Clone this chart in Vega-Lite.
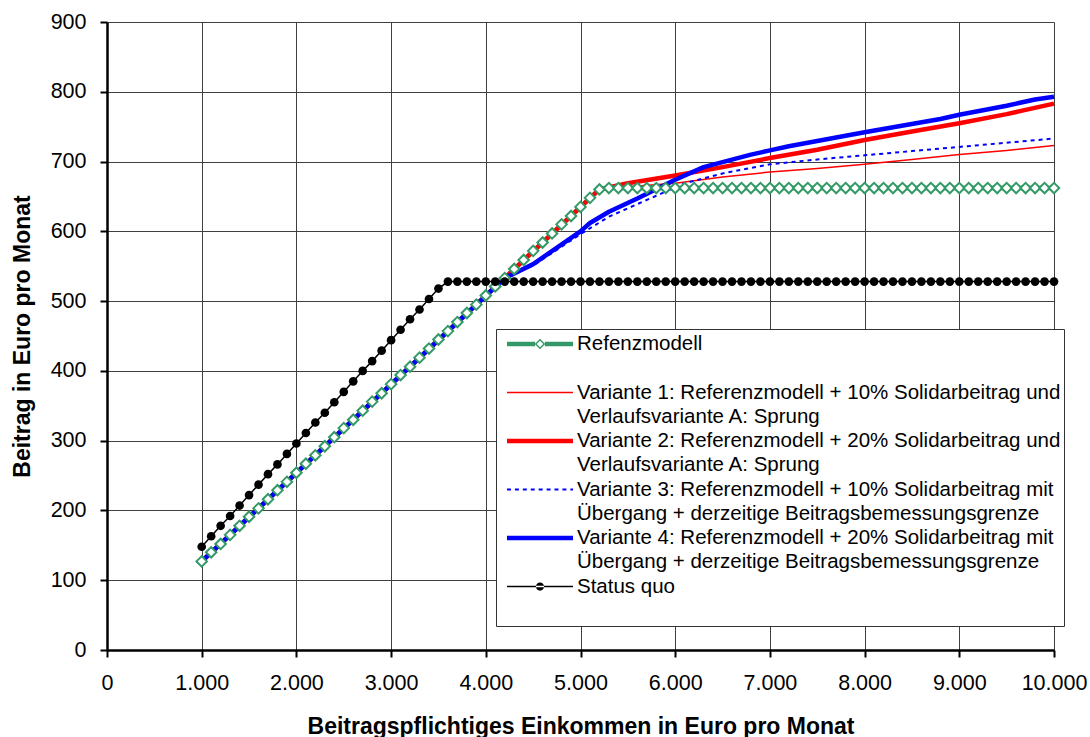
{
  "$schema": "https://vega.github.io/schema/vega-lite/v6.json",
  "autosize": {"type": "none"},
  "width": 947,
  "height": 628,
  "padding": {"left": 107, "top": 22, "right": 36, "bottom": 87},
  "background": "white",
  "config": {
    "view": {"stroke": null},
    "font": "Liberation Sans",
    "axis": {
      "labelFont": "Liberation Sans", "labelFontSize": 21.5, "labelColor": "black",
      "titleFont": "Liberation Sans", "titleFontSize": 23, "titleFontWeight": "bold", "titleColor": "black",
      "domainColor": "black", "domainWidth": 2.5,
      "tickColor": "black", "tickWidth": 2, "tickSize": 7,
      "gridColor": "#404040", "gridWidth": 1, "gridOpacity": 1
    }
  },
  "datasets": {
    "beitraege": [
      {"serie": "Refenzmodell", "einkommen": 1000, "beitrag": 127},
      {"serie": "Refenzmodell", "einkommen": 1100, "beitrag": 140},
      {"serie": "Refenzmodell", "einkommen": 1200, "beitrag": 152},
      {"serie": "Refenzmodell", "einkommen": 1300, "beitrag": 165},
      {"serie": "Refenzmodell", "einkommen": 1400, "beitrag": 178},
      {"serie": "Refenzmodell", "einkommen": 1500, "beitrag": 191},
      {"serie": "Refenzmodell", "einkommen": 1600, "beitrag": 203},
      {"serie": "Refenzmodell", "einkommen": 1700, "beitrag": 216},
      {"serie": "Refenzmodell", "einkommen": 1800, "beitrag": 229},
      {"serie": "Refenzmodell", "einkommen": 1900, "beitrag": 241},
      {"serie": "Refenzmodell", "einkommen": 2000, "beitrag": 254},
      {"serie": "Refenzmodell", "einkommen": 2100, "beitrag": 267},
      {"serie": "Refenzmodell", "einkommen": 2200, "beitrag": 279},
      {"serie": "Refenzmodell", "einkommen": 2300, "beitrag": 292},
      {"serie": "Refenzmodell", "einkommen": 2400, "beitrag": 305},
      {"serie": "Refenzmodell", "einkommen": 2500, "beitrag": 318},
      {"serie": "Refenzmodell", "einkommen": 2600, "beitrag": 330},
      {"serie": "Refenzmodell", "einkommen": 2700, "beitrag": 343},
      {"serie": "Refenzmodell", "einkommen": 2800, "beitrag": 356},
      {"serie": "Refenzmodell", "einkommen": 2900, "beitrag": 368},
      {"serie": "Refenzmodell", "einkommen": 3000, "beitrag": 381},
      {"serie": "Refenzmodell", "einkommen": 3100, "beitrag": 394},
      {"serie": "Refenzmodell", "einkommen": 3200, "beitrag": 406},
      {"serie": "Refenzmodell", "einkommen": 3300, "beitrag": 419},
      {"serie": "Refenzmodell", "einkommen": 3400, "beitrag": 432},
      {"serie": "Refenzmodell", "einkommen": 3500, "beitrag": 445},
      {"serie": "Refenzmodell", "einkommen": 3600, "beitrag": 457},
      {"serie": "Refenzmodell", "einkommen": 3700, "beitrag": 470},
      {"serie": "Refenzmodell", "einkommen": 3800, "beitrag": 483},
      {"serie": "Refenzmodell", "einkommen": 3900, "beitrag": 495},
      {"serie": "Refenzmodell", "einkommen": 4000, "beitrag": 508},
      {"serie": "Refenzmodell", "einkommen": 4100, "beitrag": 521},
      {"serie": "Refenzmodell", "einkommen": 4200, "beitrag": 533},
      {"serie": "Refenzmodell", "einkommen": 4300, "beitrag": 546},
      {"serie": "Refenzmodell", "einkommen": 4400, "beitrag": 559},
      {"serie": "Refenzmodell", "einkommen": 4500, "beitrag": 572},
      {"serie": "Refenzmodell", "einkommen": 4600, "beitrag": 584},
      {"serie": "Refenzmodell", "einkommen": 4700, "beitrag": 597},
      {"serie": "Refenzmodell", "einkommen": 4800, "beitrag": 610},
      {"serie": "Refenzmodell", "einkommen": 4900, "beitrag": 622},
      {"serie": "Refenzmodell", "einkommen": 5000, "beitrag": 635},
      {"serie": "Refenzmodell", "einkommen": 5100, "beitrag": 648},
      {"serie": "Refenzmodell", "einkommen": 5200, "beitrag": 660},
      {"serie": "Refenzmodell", "einkommen": 5300, "beitrag": 662},
      {"serie": "Refenzmodell", "einkommen": 5400, "beitrag": 662},
      {"serie": "Refenzmodell", "einkommen": 5500, "beitrag": 662},
      {"serie": "Refenzmodell", "einkommen": 5600, "beitrag": 662},
      {"serie": "Refenzmodell", "einkommen": 5700, "beitrag": 662},
      {"serie": "Refenzmodell", "einkommen": 5800, "beitrag": 662},
      {"serie": "Refenzmodell", "einkommen": 5900, "beitrag": 662},
      {"serie": "Refenzmodell", "einkommen": 6000, "beitrag": 662},
      {"serie": "Refenzmodell", "einkommen": 6100, "beitrag": 662},
      {"serie": "Refenzmodell", "einkommen": 6200, "beitrag": 662},
      {"serie": "Refenzmodell", "einkommen": 6300, "beitrag": 662},
      {"serie": "Refenzmodell", "einkommen": 6400, "beitrag": 662},
      {"serie": "Refenzmodell", "einkommen": 6500, "beitrag": 662},
      {"serie": "Refenzmodell", "einkommen": 6600, "beitrag": 662},
      {"serie": "Refenzmodell", "einkommen": 6700, "beitrag": 662},
      {"serie": "Refenzmodell", "einkommen": 6800, "beitrag": 662},
      {"serie": "Refenzmodell", "einkommen": 6900, "beitrag": 662},
      {"serie": "Refenzmodell", "einkommen": 7000, "beitrag": 662},
      {"serie": "Refenzmodell", "einkommen": 7100, "beitrag": 662},
      {"serie": "Refenzmodell", "einkommen": 7200, "beitrag": 662},
      {"serie": "Refenzmodell", "einkommen": 7300, "beitrag": 662},
      {"serie": "Refenzmodell", "einkommen": 7400, "beitrag": 662},
      {"serie": "Refenzmodell", "einkommen": 7500, "beitrag": 662},
      {"serie": "Refenzmodell", "einkommen": 7600, "beitrag": 662},
      {"serie": "Refenzmodell", "einkommen": 7700, "beitrag": 662},
      {"serie": "Refenzmodell", "einkommen": 7800, "beitrag": 662},
      {"serie": "Refenzmodell", "einkommen": 7900, "beitrag": 662},
      {"serie": "Refenzmodell", "einkommen": 8000, "beitrag": 662},
      {"serie": "Refenzmodell", "einkommen": 8100, "beitrag": 662},
      {"serie": "Refenzmodell", "einkommen": 8200, "beitrag": 662},
      {"serie": "Refenzmodell", "einkommen": 8300, "beitrag": 662},
      {"serie": "Refenzmodell", "einkommen": 8400, "beitrag": 662},
      {"serie": "Refenzmodell", "einkommen": 8500, "beitrag": 662},
      {"serie": "Refenzmodell", "einkommen": 8600, "beitrag": 662},
      {"serie": "Refenzmodell", "einkommen": 8700, "beitrag": 662},
      {"serie": "Refenzmodell", "einkommen": 8800, "beitrag": 662},
      {"serie": "Refenzmodell", "einkommen": 8900, "beitrag": 662},
      {"serie": "Refenzmodell", "einkommen": 9000, "beitrag": 662},
      {"serie": "Refenzmodell", "einkommen": 9100, "beitrag": 662},
      {"serie": "Refenzmodell", "einkommen": 9200, "beitrag": 662},
      {"serie": "Refenzmodell", "einkommen": 9300, "beitrag": 662},
      {"serie": "Refenzmodell", "einkommen": 9400, "beitrag": 662},
      {"serie": "Refenzmodell", "einkommen": 9500, "beitrag": 662},
      {"serie": "Refenzmodell", "einkommen": 9600, "beitrag": 662},
      {"serie": "Refenzmodell", "einkommen": 9700, "beitrag": 662},
      {"serie": "Refenzmodell", "einkommen": 9800, "beitrag": 662},
      {"serie": "Refenzmodell", "einkommen": 9900, "beitrag": 662},
      {"serie": "Refenzmodell", "einkommen": 10000, "beitrag": 662},
      {"serie": "Status quo", "einkommen": 1000, "beitrag": 148},
      {"serie": "Status quo", "einkommen": 1100, "beitrag": 163},
      {"serie": "Status quo", "einkommen": 1200, "beitrag": 178},
      {"serie": "Status quo", "einkommen": 1300, "beitrag": 192},
      {"serie": "Status quo", "einkommen": 1400, "beitrag": 207},
      {"serie": "Status quo", "einkommen": 1500, "beitrag": 222},
      {"serie": "Status quo", "einkommen": 1600, "beitrag": 237},
      {"serie": "Status quo", "einkommen": 1700, "beitrag": 252},
      {"serie": "Status quo", "einkommen": 1800, "beitrag": 266},
      {"serie": "Status quo", "einkommen": 1900, "beitrag": 281},
      {"serie": "Status quo", "einkommen": 2000, "beitrag": 296},
      {"serie": "Status quo", "einkommen": 2100, "beitrag": 311},
      {"serie": "Status quo", "einkommen": 2200, "beitrag": 326},
      {"serie": "Status quo", "einkommen": 2300, "beitrag": 340},
      {"serie": "Status quo", "einkommen": 2400, "beitrag": 355},
      {"serie": "Status quo", "einkommen": 2500, "beitrag": 370},
      {"serie": "Status quo", "einkommen": 2600, "beitrag": 385},
      {"serie": "Status quo", "einkommen": 2700, "beitrag": 400},
      {"serie": "Status quo", "einkommen": 2800, "beitrag": 414},
      {"serie": "Status quo", "einkommen": 2900, "beitrag": 429},
      {"serie": "Status quo", "einkommen": 3000, "beitrag": 444},
      {"serie": "Status quo", "einkommen": 3100, "beitrag": 459},
      {"serie": "Status quo", "einkommen": 3200, "beitrag": 474},
      {"serie": "Status quo", "einkommen": 3300, "beitrag": 488},
      {"serie": "Status quo", "einkommen": 3400, "beitrag": 503},
      {"serie": "Status quo", "einkommen": 3500, "beitrag": 518},
      {"serie": "Status quo", "einkommen": 3600, "beitrag": 528},
      {"serie": "Status quo", "einkommen": 3700, "beitrag": 528},
      {"serie": "Status quo", "einkommen": 3800, "beitrag": 528},
      {"serie": "Status quo", "einkommen": 3900, "beitrag": 528},
      {"serie": "Status quo", "einkommen": 4000, "beitrag": 528},
      {"serie": "Status quo", "einkommen": 4100, "beitrag": 528},
      {"serie": "Status quo", "einkommen": 4200, "beitrag": 528},
      {"serie": "Status quo", "einkommen": 4300, "beitrag": 528},
      {"serie": "Status quo", "einkommen": 4400, "beitrag": 528},
      {"serie": "Status quo", "einkommen": 4500, "beitrag": 528},
      {"serie": "Status quo", "einkommen": 4600, "beitrag": 528},
      {"serie": "Status quo", "einkommen": 4700, "beitrag": 528},
      {"serie": "Status quo", "einkommen": 4800, "beitrag": 528},
      {"serie": "Status quo", "einkommen": 4900, "beitrag": 528},
      {"serie": "Status quo", "einkommen": 5000, "beitrag": 528},
      {"serie": "Status quo", "einkommen": 5100, "beitrag": 528},
      {"serie": "Status quo", "einkommen": 5200, "beitrag": 528},
      {"serie": "Status quo", "einkommen": 5300, "beitrag": 528},
      {"serie": "Status quo", "einkommen": 5400, "beitrag": 528},
      {"serie": "Status quo", "einkommen": 5500, "beitrag": 528},
      {"serie": "Status quo", "einkommen": 5600, "beitrag": 528},
      {"serie": "Status quo", "einkommen": 5700, "beitrag": 528},
      {"serie": "Status quo", "einkommen": 5800, "beitrag": 528},
      {"serie": "Status quo", "einkommen": 5900, "beitrag": 528},
      {"serie": "Status quo", "einkommen": 6000, "beitrag": 528},
      {"serie": "Status quo", "einkommen": 6100, "beitrag": 528},
      {"serie": "Status quo", "einkommen": 6200, "beitrag": 528},
      {"serie": "Status quo", "einkommen": 6300, "beitrag": 528},
      {"serie": "Status quo", "einkommen": 6400, "beitrag": 528},
      {"serie": "Status quo", "einkommen": 6500, "beitrag": 528},
      {"serie": "Status quo", "einkommen": 6600, "beitrag": 528},
      {"serie": "Status quo", "einkommen": 6700, "beitrag": 528},
      {"serie": "Status quo", "einkommen": 6800, "beitrag": 528},
      {"serie": "Status quo", "einkommen": 6900, "beitrag": 528},
      {"serie": "Status quo", "einkommen": 7000, "beitrag": 528},
      {"serie": "Status quo", "einkommen": 7100, "beitrag": 528},
      {"serie": "Status quo", "einkommen": 7200, "beitrag": 528},
      {"serie": "Status quo", "einkommen": 7300, "beitrag": 528},
      {"serie": "Status quo", "einkommen": 7400, "beitrag": 528},
      {"serie": "Status quo", "einkommen": 7500, "beitrag": 528},
      {"serie": "Status quo", "einkommen": 7600, "beitrag": 528},
      {"serie": "Status quo", "einkommen": 7700, "beitrag": 528},
      {"serie": "Status quo", "einkommen": 7800, "beitrag": 528},
      {"serie": "Status quo", "einkommen": 7900, "beitrag": 528},
      {"serie": "Status quo", "einkommen": 8000, "beitrag": 528},
      {"serie": "Status quo", "einkommen": 8100, "beitrag": 528},
      {"serie": "Status quo", "einkommen": 8200, "beitrag": 528},
      {"serie": "Status quo", "einkommen": 8300, "beitrag": 528},
      {"serie": "Status quo", "einkommen": 8400, "beitrag": 528},
      {"serie": "Status quo", "einkommen": 8500, "beitrag": 528},
      {"serie": "Status quo", "einkommen": 8600, "beitrag": 528},
      {"serie": "Status quo", "einkommen": 8700, "beitrag": 528},
      {"serie": "Status quo", "einkommen": 8800, "beitrag": 528},
      {"serie": "Status quo", "einkommen": 8900, "beitrag": 528},
      {"serie": "Status quo", "einkommen": 9000, "beitrag": 528},
      {"serie": "Status quo", "einkommen": 9100, "beitrag": 528},
      {"serie": "Status quo", "einkommen": 9200, "beitrag": 528},
      {"serie": "Status quo", "einkommen": 9300, "beitrag": 528},
      {"serie": "Status quo", "einkommen": 9400, "beitrag": 528},
      {"serie": "Status quo", "einkommen": 9500, "beitrag": 528},
      {"serie": "Status quo", "einkommen": 9600, "beitrag": 528},
      {"serie": "Status quo", "einkommen": 9700, "beitrag": 528},
      {"serie": "Status quo", "einkommen": 9800, "beitrag": 528},
      {"serie": "Status quo", "einkommen": 9900, "beitrag": 528},
      {"serie": "Status quo", "einkommen": 10000, "beitrag": 528},
      {"serie": "Variante 1: Referenzmodell + 10% Solidarbeitrag und Verlaufsvariante A: Sprung", "einkommen": 1000, "beitrag": 127},
      {"serie": "Variante 1: Referenzmodell + 10% Solidarbeitrag und Verlaufsvariante A: Sprung", "einkommen": 5200, "beitrag": 660},
      {"serie": "Variante 1: Referenzmodell + 10% Solidarbeitrag und Verlaufsvariante A: Sprung", "einkommen": 5500, "beitrag": 664},
      {"serie": "Variante 1: Referenzmodell + 10% Solidarbeitrag und Verlaufsvariante A: Sprung", "einkommen": 6000, "beitrag": 669},
      {"serie": "Variante 1: Referenzmodell + 10% Solidarbeitrag und Verlaufsvariante A: Sprung", "einkommen": 6500, "beitrag": 678},
      {"serie": "Variante 1: Referenzmodell + 10% Solidarbeitrag und Verlaufsvariante A: Sprung", "einkommen": 7000, "beitrag": 685},
      {"serie": "Variante 1: Referenzmodell + 10% Solidarbeitrag und Verlaufsvariante A: Sprung", "einkommen": 7500, "beitrag": 690},
      {"serie": "Variante 1: Referenzmodell + 10% Solidarbeitrag und Verlaufsvariante A: Sprung", "einkommen": 8000, "beitrag": 696},
      {"serie": "Variante 1: Referenzmodell + 10% Solidarbeitrag und Verlaufsvariante A: Sprung", "einkommen": 8500, "beitrag": 703},
      {"serie": "Variante 1: Referenzmodell + 10% Solidarbeitrag und Verlaufsvariante A: Sprung", "einkommen": 9000, "beitrag": 710},
      {"serie": "Variante 1: Referenzmodell + 10% Solidarbeitrag und Verlaufsvariante A: Sprung", "einkommen": 9500, "beitrag": 716},
      {"serie": "Variante 1: Referenzmodell + 10% Solidarbeitrag und Verlaufsvariante A: Sprung", "einkommen": 10000, "beitrag": 723},
      {"serie": "Variante 2: Referenzmodell + 20% Solidarbeitrag und Verlaufsvariante A: Sprung", "einkommen": 1000, "beitrag": 127},
      {"serie": "Variante 2: Referenzmodell + 20% Solidarbeitrag und Verlaufsvariante A: Sprung", "einkommen": 5200, "beitrag": 660},
      {"serie": "Variante 2: Referenzmodell + 20% Solidarbeitrag und Verlaufsvariante A: Sprung", "einkommen": 5500, "beitrag": 669},
      {"serie": "Variante 2: Referenzmodell + 20% Solidarbeitrag und Verlaufsvariante A: Sprung", "einkommen": 6000, "beitrag": 680},
      {"serie": "Variante 2: Referenzmodell + 20% Solidarbeitrag und Verlaufsvariante A: Sprung", "einkommen": 6500, "beitrag": 692},
      {"serie": "Variante 2: Referenzmodell + 20% Solidarbeitrag und Verlaufsvariante A: Sprung", "einkommen": 7000, "beitrag": 705},
      {"serie": "Variante 2: Referenzmodell + 20% Solidarbeitrag und Verlaufsvariante A: Sprung", "einkommen": 7500, "beitrag": 717},
      {"serie": "Variante 2: Referenzmodell + 20% Solidarbeitrag und Verlaufsvariante A: Sprung", "einkommen": 8000, "beitrag": 731},
      {"serie": "Variante 2: Referenzmodell + 20% Solidarbeitrag und Verlaufsvariante A: Sprung", "einkommen": 8500, "beitrag": 743},
      {"serie": "Variante 2: Referenzmodell + 20% Solidarbeitrag und Verlaufsvariante A: Sprung", "einkommen": 9000, "beitrag": 755},
      {"serie": "Variante 2: Referenzmodell + 20% Solidarbeitrag und Verlaufsvariante A: Sprung", "einkommen": 9500, "beitrag": 768},
      {"serie": "Variante 2: Referenzmodell + 20% Solidarbeitrag und Verlaufsvariante A: Sprung", "einkommen": 10000, "beitrag": 783},
      {"serie": "Variante 3: Referenzmodell + 10% Solidarbeitrag mit Übergang + derzeitige Beitragsbemessungsgrenze", "einkommen": 1000, "beitrag": 127},
      {"serie": "Variante 3: Referenzmodell + 10% Solidarbeitrag mit Übergang + derzeitige Beitragsbemessungsgrenze", "einkommen": 4200, "beitrag": 533},
      {"serie": "Variante 3: Referenzmodell + 10% Solidarbeitrag mit Übergang + derzeitige Beitragsbemessungsgrenze", "einkommen": 4500, "beitrag": 551},
      {"serie": "Variante 3: Referenzmodell + 10% Solidarbeitrag mit Übergang + derzeitige Beitragsbemessungsgrenze", "einkommen": 5000, "beitrag": 596},
      {"serie": "Variante 3: Referenzmodell + 10% Solidarbeitrag mit Übergang + derzeitige Beitragsbemessungsgrenze", "einkommen": 5300, "beitrag": 621},
      {"serie": "Variante 3: Referenzmodell + 10% Solidarbeitrag mit Übergang + derzeitige Beitragsbemessungsgrenze", "einkommen": 5800, "beitrag": 651},
      {"serie": "Variante 3: Referenzmodell + 10% Solidarbeitrag mit Übergang + derzeitige Beitragsbemessungsgrenze", "einkommen": 6100, "beitrag": 669},
      {"serie": "Variante 3: Referenzmodell + 10% Solidarbeitrag mit Übergang + derzeitige Beitragsbemessungsgrenze", "einkommen": 6500, "beitrag": 683},
      {"serie": "Variante 3: Referenzmodell + 10% Solidarbeitrag mit Übergang + derzeitige Beitragsbemessungsgrenze", "einkommen": 7000, "beitrag": 696},
      {"serie": "Variante 3: Referenzmodell + 10% Solidarbeitrag mit Übergang + derzeitige Beitragsbemessungsgrenze", "einkommen": 7500, "beitrag": 703},
      {"serie": "Variante 3: Referenzmodell + 10% Solidarbeitrag mit Übergang + derzeitige Beitragsbemessungsgrenze", "einkommen": 8000, "beitrag": 709},
      {"serie": "Variante 3: Referenzmodell + 10% Solidarbeitrag mit Übergang + derzeitige Beitragsbemessungsgrenze", "einkommen": 8500, "beitrag": 715},
      {"serie": "Variante 3: Referenzmodell + 10% Solidarbeitrag mit Übergang + derzeitige Beitragsbemessungsgrenze", "einkommen": 9000, "beitrag": 721},
      {"serie": "Variante 3: Referenzmodell + 10% Solidarbeitrag mit Übergang + derzeitige Beitragsbemessungsgrenze", "einkommen": 9500, "beitrag": 727},
      {"serie": "Variante 3: Referenzmodell + 10% Solidarbeitrag mit Übergang + derzeitige Beitragsbemessungsgrenze", "einkommen": 10000, "beitrag": 733},
      {"serie": "Variante 4: Referenzmodell + 20% Solidarbeitrag mit Übergang + derzeitige Beitragsbemessungsgrenze", "einkommen": 1000, "beitrag": 127},
      {"serie": "Variante 4: Referenzmodell + 20% Solidarbeitrag mit Übergang + derzeitige Beitragsbemessungsgrenze", "einkommen": 4200, "beitrag": 533},
      {"serie": "Variante 4: Referenzmodell + 20% Solidarbeitrag mit Übergang + derzeitige Beitragsbemessungsgrenze", "einkommen": 4500, "beitrag": 553},
      {"serie": "Variante 4: Referenzmodell + 20% Solidarbeitrag mit Übergang + derzeitige Beitragsbemessungsgrenze", "einkommen": 5000, "beitrag": 600},
      {"serie": "Variante 4: Referenzmodell + 20% Solidarbeitrag mit Übergang + derzeitige Beitragsbemessungsgrenze", "einkommen": 5100, "beitrag": 612},
      {"serie": "Variante 4: Referenzmodell + 20% Solidarbeitrag mit Übergang + derzeitige Beitragsbemessungsgrenze", "einkommen": 5300, "beitrag": 628},
      {"serie": "Variante 4: Referenzmodell + 20% Solidarbeitrag mit Übergang + derzeitige Beitragsbemessungsgrenze", "einkommen": 5600, "beitrag": 647},
      {"serie": "Variante 4: Referenzmodell + 20% Solidarbeitrag mit Übergang + derzeitige Beitragsbemessungsgrenze", "einkommen": 6000, "beitrag": 674},
      {"serie": "Variante 4: Referenzmodell + 20% Solidarbeitrag mit Übergang + derzeitige Beitragsbemessungsgrenze", "einkommen": 6300, "beitrag": 692},
      {"serie": "Variante 4: Referenzmodell + 20% Solidarbeitrag mit Übergang + derzeitige Beitragsbemessungsgrenze", "einkommen": 6800, "beitrag": 710},
      {"serie": "Variante 4: Referenzmodell + 20% Solidarbeitrag mit Übergang + derzeitige Beitragsbemessungsgrenze", "einkommen": 7000, "beitrag": 716},
      {"serie": "Variante 4: Referenzmodell + 20% Solidarbeitrag mit Übergang + derzeitige Beitragsbemessungsgrenze", "einkommen": 7200, "beitrag": 722},
      {"serie": "Variante 4: Referenzmodell + 20% Solidarbeitrag mit Übergang + derzeitige Beitragsbemessungsgrenze", "einkommen": 8000, "beitrag": 742},
      {"serie": "Variante 4: Referenzmodell + 20% Solidarbeitrag mit Übergang + derzeitige Beitragsbemessungsgrenze", "einkommen": 8800, "beitrag": 761},
      {"serie": "Variante 4: Referenzmodell + 20% Solidarbeitrag mit Übergang + derzeitige Beitragsbemessungsgrenze", "einkommen": 9000, "beitrag": 767},
      {"serie": "Variante 4: Referenzmodell + 20% Solidarbeitrag mit Übergang + derzeitige Beitragsbemessungsgrenze", "einkommen": 9500, "beitrag": 780},
      {"serie": "Variante 4: Referenzmodell + 20% Solidarbeitrag mit Übergang + derzeitige Beitragsbemessungsgrenze", "einkommen": 9800, "beitrag": 789},
      {"serie": "Variante 4: Referenzmodell + 20% Solidarbeitrag mit Übergang + derzeitige Beitragsbemessungsgrenze", "einkommen": 10000, "beitrag": 793}
    ]
  },
  "data": {"name": "beitraege"},
  "encoding": {
    "x": {
      "field": "einkommen", "type": "quantitative",
      "scale": {"domain": [0, 10000], "nice": false, "zero": false},
      "axis": {
        "title": "Beitragspflichtiges Einkommen in Euro pro Monat",
        "values": [0, 1000, 2000, 3000, 4000, 5000, 6000, 7000, 8000, 9000, 10000],
        "labelExpr": "replace(format(datum.value, ','), ',', '.')",
        "labelPadding": 15, "labelFlush": false, "labelOverlap": false,
        "titleBaseline": "alphabetic", "titleY": 83
      }
    },
    "y": {
      "field": "beitrag", "type": "quantitative",
      "scale": {"domain": [0, 900], "nice": false},
      "axis": {
        "title": "Beitrag in Euro pro Monat",
        "values": [0, 100, 200, 300, 400, 500, 600, 700, 800, 900],
        "labelPadding": 14, "labelFlush": false, "labelOverlap": false,
        "titleAngle": 270, "titleBaseline": "alphabetic", "titleX": -78
      }
    },
    "color": {
      "field": "serie", "type": "nominal",
      "scale": {
        "domain": [
          "Refenzmodell", "gap",
          "Variante 1: Referenzmodell + 10% Solidarbeitrag und Verlaufsvariante A: Sprung", "v1b",
          "Variante 2: Referenzmodell + 20% Solidarbeitrag und Verlaufsvariante A: Sprung", "v2b",
          "Variante 3: Referenzmodell + 10% Solidarbeitrag mit Übergang + derzeitige Beitragsbemessungsgrenze", "v3b",
          "Variante 4: Referenzmodell + 20% Solidarbeitrag mit Übergang + derzeitige Beitragsbemessungsgrenze", "v4b",
          "Status quo", "gap2"
        ],
        "range": ["#339966", "white", "#ff0000", "white", "#ff0000", "white", "#0000ff", "white", "#0000ff", "white", "black", "white"]
      },
      "legend": {
        "title": null,
        "orient": "none", "legendX": 389, "legendY": 307,
        "padding": 3, "strokeColor": "#333333", "fillColor": "white",
        "symbolSize": 4356, "symbolType": "stroke", "symbolStrokeWidth": 0, "symbolOffset": 8,
        "clipHeight": 24,
        "labelOffset": 4, "labelFont": "Liberation Sans", "labelFontSize": 20.5, "labelColor": "black",
        "labelLimit": 700, "rowPadding": 0.25,
        "labelExpr": "datum.value === 'gap' || datum.value === 'gap2' ? ' ' : (datum.value === 'v1b' || datum.value === 'v2b') ? 'Verlaufsvariante A: Sprung' : (datum.value === 'v3b' || datum.value === 'v4b') ? 'Übergang + derzeitige Beitragsbemessungsgrenze' : replace(replace(datum.value, ' Verlaufsvariante A: Sprung', ''), ' Übergang + derzeitige Beitragsbemessungsgrenze', '')",
        "encode": {
          "symbols": {
            "update": {
              "shape": {"signal": "datum.value === 'Refenzmodell' ? 'M-1,-0.068H-0.15V0.068H-1Z M0.15,-0.068H1V0.068H0.15Z M0,-0.16L0.16,0L0,0.16L-0.16,0Z M0,-0.1L-0.1,0L0,0.1L0.1,0Z' : datum.value === 'Status quo' ? 'M-1,-0.023H1V0.023H-1Z M-0.125,0A0.125,0.125 0 1,0 0.125,0A0.125,0.125 0 1,0 -0.125,0Z' : (indexof(datum.value, 'Variante 2') === 0 || indexof(datum.value, 'Variante 4') === 0) ? 'M-1,-0.068H1V0.068H-1Z' : indexof(datum.value, 'Variante 1') === 0 ? 'M-1,-0.023H1V0.023H-1Z' : indexof(datum.value, 'Variante 3') === 0 ? 'M-1,-0.03H-0.88V0.03H-1Z M-0.76,-0.03H-0.64V0.03H-0.76Z M-0.52,-0.03H-0.4V0.03H-0.52Z M-0.28,-0.03H-0.16V0.03H-0.28Z M-0.04,-0.03H0.08V0.03H-0.04Z M0.2,-0.03H0.32V0.03H0.2Z M0.44,-0.03H0.56V0.03H0.44Z M0.68,-0.03H0.8V0.03H0.68Z M0.92,-0.03H1V0.03H0.92Z' : 'M-1,0H1'"},
              "fill": {"signal": "datum.value === 'Refenzmodell' ? '#339966' : datum.value === 'Status quo' ? 'black' : (indexof(datum.value, 'Variante 1') === 0 || indexof(datum.value, 'Variante 2') === 0) ? '#ff0000' : (indexof(datum.value, 'Variante 3') === 0 || indexof(datum.value, 'Variante 4') === 0) ? '#0000ff' : 'transparent'"},
              "stroke": {"value": "transparent"}
            }
          }
        }
      }
    }
  },
  "layer": [
    {"transform": [{"filter": "datum.serie === 'Refenzmodell'"}], "mark": {"type": "line", "strokeWidth": 4.5, "strokeJoin": "round"}},
    {"transform": [{"filter": "indexof(datum.serie, 'Variante 1') === 0"}], "mark": {"type": "line", "strokeWidth": 1.5, "strokeJoin": "round"}},
    {"transform": [{"filter": "indexof(datum.serie, 'Variante 2') === 0"}], "mark": {"type": "line", "strokeWidth": 4.5, "strokeJoin": "round"}},
    {"transform": [{"filter": "indexof(datum.serie, 'Variante 3') === 0"}], "mark": {"type": "line", "strokeWidth": 2, "strokeDash": [4, 4]}},
    {"transform": [{"filter": "indexof(datum.serie, 'Variante 4') === 0"}], "mark": {"type": "line", "strokeWidth": 4.5, "strokeJoin": "round"}},
    {"transform": [{"filter": "datum.serie === 'Status quo'"}], "mark": {"type": "line", "strokeWidth": 1.5}},
    {
      "transform": [{"filter": "datum.serie === 'Refenzmodell'"}],
      "mark": {"type": "point", "shape": "diamond", "size": 110, "filled": true, "opacity": 1, "strokeWidth": 2},
      "encoding": {"color": {"value": "#339966"}, "fill": {"value": "white"}, "stroke": {"value": "#339966"}}
    },
    {
      "transform": [{"filter": "datum.serie === 'Status quo'"}],
      "mark": {"type": "point", "shape": "circle", "size": 75, "filled": true, "opacity": 1},
      "encoding": {"color": {"value": "black"}}
    }
  ]
}
